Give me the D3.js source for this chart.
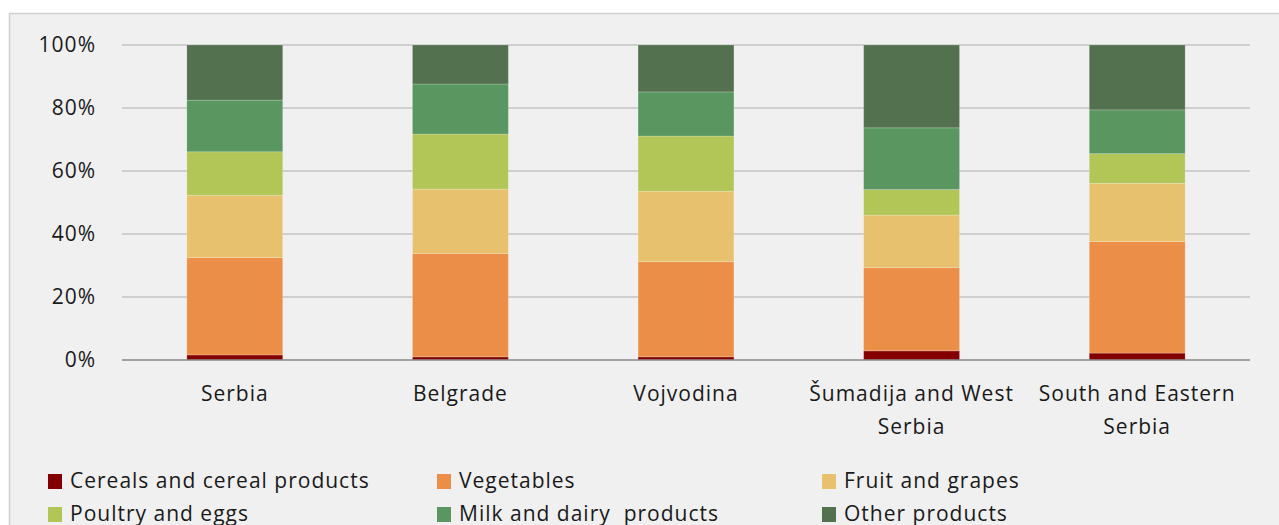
<!DOCTYPE html>
<html>
<head>
<meta charset="utf-8">
<script src="https://cdn.jsdelivr.net/npm/d3@7"></script>
<style>
  body { margin: 0; background: #ffffff; }
  svg { display: block; font-family: "Open Sans", sans-serif; }
  text { letter-spacing: 1px; white-space: pre; }
</style>
</head>
<body>
<svg id="chart" width="1279" height="525"></svg>
<script>
// regions (x axis), two-line labels
var regions = ["Serbia", "Belgrade", "Vojvodina", "Šumadija and West Serbia", "South and Eastern Serbia"];
var regionLines = [["Serbia"], ["Belgrade"], ["Vojvodina"], ["Šumadija and West", "Serbia"], ["South and Eastern", "Serbia"]];

var seriesNames = ["Cereals and cereal products", "Vegetables", "Fruit and grapes",
  "Poultry and eggs", "Milk and dairy  products", "Other products"];
var seriesColors = ["#840000", "#eb8f48", "#e7c16d", "#b2c658", "#5a965f", "#54714f"];

// shares in %, one array per series, in region order
var cereals = [1.6, 1.0, 1.0, 2.9, 2.2];
var vegetables = [30.9, 32.8, 30.2, 26.4, 35.4];
var fruit = [19.8, 20.5, 22.4, 16.7, 18.5];
var poultry = [13.8, 17.5, 17.5, 8.1, 9.4];
var milk = [16.4, 15.9, 14.0, 19.6, 13.9];
var other = [17.5, 12.4, 14.9, 26.3, 20.6];

var yTicks = [0, 20, 40, 60, 80, 100];

var svg = d3.select("#chart");
var margin = { left: 122, right: 1250, top: 45, bottom: 360 };

// chart area background + border
svg.append("rect")
  .attr("x", 9.5).attr("y", 13.5)
  .attr("width", 1290).attr("height", 530)
  .attr("fill", "#f0f0f0")
  .attr("stroke", "#d0d0d0")
  .attr("stroke-width", 1.5);

var table = regions.map(function (r, i) {
  return { region: r, s0: cereals[i], s1: vegetables[i], s2: fruit[i], s3: poultry[i], s4: milk[i], s5: other[i] };
});
var keys = ["s0", "s1", "s2", "s3", "s4", "s5"];
var stacked = d3.stack().keys(keys).offset(d3.stackOffsetExpand)(table);

var x = d3.scaleBand()
  .domain(regions)
  .range([margin.left, margin.right])
  .paddingInner(0.575)
  .paddingOuter(0.2875);

var y = d3.scaleLinear().domain([0, 1]).range([margin.bottom, margin.top]);

// gridlines
svg.append("g")
  .selectAll("line")
  .data(yTicks.filter(function (t) { return t > 0; }))
  .enter()
  .append("line")
  .attr("x1", margin.left).attr("x2", margin.right)
  .attr("y1", function (d) { return y(d / 100); })
  .attr("y2", function (d) { return y(d / 100); })
  .attr("stroke", "#c4c4c4")
  .attr("stroke-width", 1.3);

// y labels
svg.append("g")
  .selectAll("text")
  .data(yTicks)
  .enter()
  .append("text")
  .attr("x", 96)
  .attr("y", function (d) { return y(d / 100) + 7; })
  .attr("text-anchor", "end")
  .attr("font-size", "21px")
  .attr("fill", "#1a1a1a")
  .text(function (d) { return d + "%"; });

// bars
svg.append("g")
  .selectAll("g")
  .data(stacked)
  .enter()
  .append("g")
  .attr("fill", function (d, i) { return seriesColors[i]; })
  .selectAll("rect")
  .data(function (d) { return d; })
  .enter()
  .append("rect")
  .attr("x", function (d) { return x(d.data.region); })
  .attr("y", function (d) { return y(d[1]); })
  .attr("height", function (d) { return y(d[0]) - y(d[1]); })
  .attr("width", x.bandwidth())
  .attr("stroke", "#ffffff")
  .attr("stroke-opacity", 0.25)
  .attr("stroke-width", 0.8);

// baseline
svg.append("line")
  .attr("x1", margin.left).attr("x2", margin.right)
  .attr("y1", y(0)).attr("y2", y(0))
  .attr("stroke", "#898989")
  .attr("stroke-width", 1.5);

// category labels
var cat = svg.append("g")
  .selectAll("text")
  .data(regions)
  .enter()
  .append("text")
  .attr("text-anchor", "middle")
  .attr("font-size", "21px")
  .attr("fill", "#1a1a1a");
cat.each(function (d, i) {
  var t = d3.select(this);
  regionLines[i].forEach(function (line, j) {
    t.append("tspan")
      .attr("x", x(d) + x.bandwidth() / 2)
      .attr("y", 401 + j * 33)
      .text(line);
  });
});

// legend
var legendX = [48, 437, 822];
var legendY = [481, 514];
var legend = svg.append("g")
  .selectAll("g")
  .data(seriesNames)
  .enter()
  .append("g")
  .attr("transform", function (d, i) {
    return "translate(" + legendX[i % 3] + "," + legendY[Math.floor(i / 3)] + ")";
  });
legend.append("rect")
  .attr("x", 0).attr("y", -7)
  .attr("width", 14).attr("height", 15)
  .attr("fill", function (d, i) { return seriesColors[i]; });
legend.append("text")
  .attr("x", 22).attr("y", 7)
  .attr("font-size", "21px")
  .attr("fill", "#1a1a1a")
  .text(function (d) { return d; });
</script>
</body>
</html>
